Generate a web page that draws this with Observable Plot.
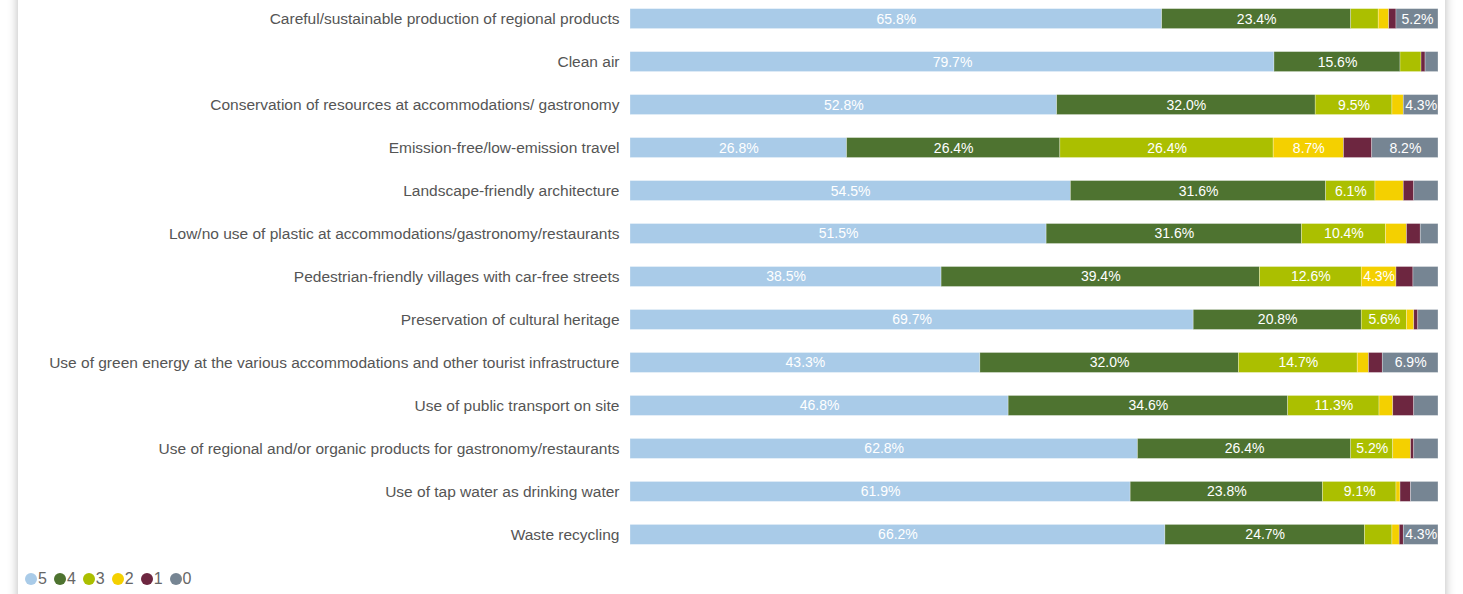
<!DOCTYPE html>
<html>
<head>
<meta charset="utf-8">
<script src="https://cdn.jsdelivr.net/npm/d3@7"></script>
<script src="https://cdn.jsdelivr.net/npm/@observablehq/plot@0.6"></script>
<style>
  html, body { margin: 0; padding: 0; background: #ffffff; overflow: hidden; }
  body { width: 1463px; height: 594px; position: relative; font-family: "Liberation Sans", Arial, sans-serif; }
  #card { position: absolute; left: 18px; top: -20px; width: 1427px; height: 640px; background: #fff;
          box-shadow: 0 0 10px rgba(0,0,0,0.28); }
  #chart { position: absolute; left: 0; top: 20px; }
  #legend { position: absolute; left: 7px; top: 590px; display: flex; align-items: center; font-size: 16px; color: #666; }
  #legend .item { display: flex; align-items: center; margin-right: 7px; }
  #legend .dot { width: 12px; height: 12px; border-radius: 50%; display: inline-block; margin-right: 1px; }
</style>
</head>
<body>
<div id="card"><div id="chart"></div><div id="legend"></div></div>
<script>
const categories = [
  "Careful/sustainable production of regional products",
  "Clean air",
  "Conservation of resources at accommodations/ gastronomy",
  "Emission-free/low-emission travel",
  "Landscape-friendly architecture",
  "Low/no use of plastic at accommodations/gastronomy/restaurants",
  "Pedestrian-friendly villages with car-free streets",
  "Preservation of cultural heritage",
  "Use of green energy at the various accommodations and other tourist infrastructure",
  "Use of public transport on site",
  "Use of regional and/or organic products for gastronomy/restaurants",
  "Use of tap water as drinking water",
  "Waste recycling"
];
const levels = ["5", "4", "3", "2", "1", "0"];
const levelColors = ["#a9cbe8", "#4e7330", "#abbf00", "#f4d000", "#6d2640", "#768593"];
const v5 = [65.8, 79.7, 52.8, 26.8, 54.5, 51.5, 38.5, 69.7, 43.3, 46.8, 62.8, 61.9, 66.2];
const v4 = [23.4, 15.6, 32.0, 26.4, 31.6, 31.6, 39.4, 20.8, 32.0, 34.6, 26.4, 23.8, 24.7];
const v3 = [3.4, 2.6, 9.5, 26.4, 6.1, 10.4, 12.6, 5.6, 14.7, 11.3, 5.2, 9.1, 3.4];
const v2 = [1.3, 0.0, 1.4, 8.7, 3.5, 2.6, 4.3, 0.9, 1.4, 1.7, 2.2, 0.5, 0.9];
const v1 = [0.9, 0.5, 0.0, 3.5, 1.3, 1.7, 2.1, 0.5, 1.7, 2.6, 0.4, 1.3, 0.5];
const v0 = [5.2, 1.6, 4.3, 8.2, 3.0, 2.2, 3.1, 2.5, 6.9, 3.0, 3.0, 3.4, 4.3];
const series = [v5, v4, v3, v2, v1, v0];

const data = [];
categories.forEach((c, i) => {
  levels.forEach((l, j) => {
    data.push({cat: c, level: l, value: series[j][i]});
  });
});

const chart = Plot.plot({
  width: 1427,
  height: 553,
  marginLeft: 612,
  marginRight: 7,
  marginTop: 0,
  marginBottom: 0,
  style: {fontFamily: "Liberation Sans, Arial, sans-serif", background: "transparent"},
  x: {domain: [0, 100], axis: null},
  y: {domain: categories, paddingInner: 0.535, paddingOuter: 0.2, round: false, label: null},
  color: {domain: levels, range: levelColors},
  marks: [
    Plot.barX(data, Plot.stackX({x: "value", y: "cat", fill: "level", order: null, stroke: "#ffffff", strokeWidth: 0.6, strokeOpacity: 0.5})),
    Plot.text(data, Plot.stackX({
      x: "value", y: "cat", z: "level", order: null,
      text: d => d.value >= 4 ? d.value.toFixed(1) + "%" : "",
      fill: "#ffffff", fontSize: 14
    })),
    Plot.axisY({tickSize: 0, tickPadding: 11, fontSize: 15.5, color: "#555", label: null})
  ]
});
document.getElementById("chart").appendChild(chart);

const legend = document.getElementById("legend");
levels.forEach((l, j) => {
  const item = document.createElement("span");
  item.className = "item";
  const dot = document.createElement("span");
  dot.className = "dot";
  dot.style.background = levelColors[j];
  item.appendChild(dot);
  item.appendChild(document.createTextNode(l));
  legend.appendChild(item);
});
</script>
</body>
</html>
